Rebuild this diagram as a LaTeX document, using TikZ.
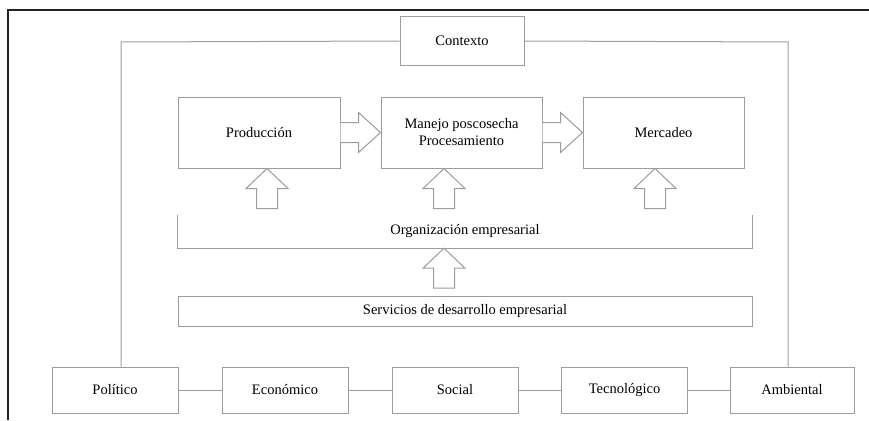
\documentclass[tikz,border=0pt]{standalone}
\usepackage{fontspec}
\setmainfont{Liberation Serif}
\usetikzlibrary{calc}
\definecolor{boxgray}{HTML}{9C9C9C}
\definecolor{framegray}{HTML}{222222}
\tikzset{
  box/.style={draw=boxgray, line width=1pt, fill=white, inner sep=0pt, align=center,
    font=\fontsize{14.5}{17}\selectfont, text=black},
  conn/.style={draw=boxgray, line width=1pt},
  fat/.style={draw=boxgray, line width=1pt, fill=white, line join=miter},
  plain/.style={inner sep=0pt, font=\fontsize{14.5}{17}\selectfont, text=black}
}
\begin{document}
\begin{tikzpicture}[x=1pt,y=-1pt]
\useasboundingbox (0,0) rectangle (869,420);
% outer frame (partial)
\draw[framegray, line width=1.2pt] (8,420) -- (8,10) -- (869,10);

% context
\node[box, minimum width=124pt, minimum height=48pt] (ctx) at (462,41) {Contexto};

% main chain
\node[box, minimum width=162pt, minimum height=71pt] (prod) at (259,132.5) {Producción};
\node[box, minimum width=161pt, minimum height=71pt] (man) at (461.5,132.5) {Manejo poscosecha\\Procesamiento};
\node[box, minimum width=161pt, minimum height=71pt] (mer) at (663.5,132.5) {Mercadeo};

% organizacion (open-top bracket)
\node[plain, minimum width=574pt, minimum height=33pt] (org) at (465,231.5) {Organización empresarial};
\draw[conn] (org.north west) -- (org.south west) -- (org.south east) -- (org.north east);

% servicios
\node[box, minimum width=574pt, minimum height=30pt] (ser) at (465,311) {Servicios de desarrollo empresarial};

% bottom row
\node[box, minimum width=126pt, minimum height=46pt] (pol) at (115,390) {Político};
\node[box, minimum width=126pt, minimum height=46pt] (eco) at (285,390) {Económico};
\node[box, minimum width=126pt, minimum height=46pt] (soc) at (455,390) {Social};
\node[box, minimum width=126pt, minimum height=46pt] (tec) at (624.5,390) {Tecnológico};
\node[box, minimum width=124pt, minimum height=46pt] (amb) at (792,390) {Ambiental};

\draw[conn] (pol) -- (eco);
\draw[conn] (eco) -- (soc);
\draw[conn] (soc) -- (tec);
\draw[conn] (tec) -- (amb);

% context connectors
\coordinate (cl) at (121,42);
\coordinate (cr) at (788,42);
\draw[conn] (ctx.west) -- (cl) -- (cl |- pol.north);
\draw[conn] (ctx.east) -- (cr) -- (cr |- amb.north);

% horizontal fat arrows
\foreach \a/\b in {prod/man, man/mer}{
  \draw[fat] ($(\a.east)+(0,-10)$) -- ($(\b.west)+(-22,-10)$) -- ($(\b.west)+(-22,-20)$)
    -- (\b.west) -- ($(\b.west)+(-22,20)$) -- ($(\b.west)+(-22,10)$) -- ($(\a.east)+(0,10)$);
}

% up fat arrows into main boxes
\coordinate (u1) at ($(prod.south)+(8,0)$);
\coordinate (u2) at ($(man.south)+(-17.5,0)$);
\coordinate (u3) at ($(mer.south)+(-8.5,0)$);
\coordinate (u4) at ($(org.south)+(-21,0)$);
\foreach \t in {u1,u2,u3,u4}{
  \draw[fat] (\t) -- ($(\t)+(21,20)$) -- ($(\t)+(10.5,20)$) -- ($(\t)+(10.5,40)$)
    -- ($(\t)+(-10.5,40)$) -- ($(\t)+(-10.5,20)$) -- ($(\t)+(-21,20)$) -- cycle;
}
\end{tikzpicture}
\end{document}
